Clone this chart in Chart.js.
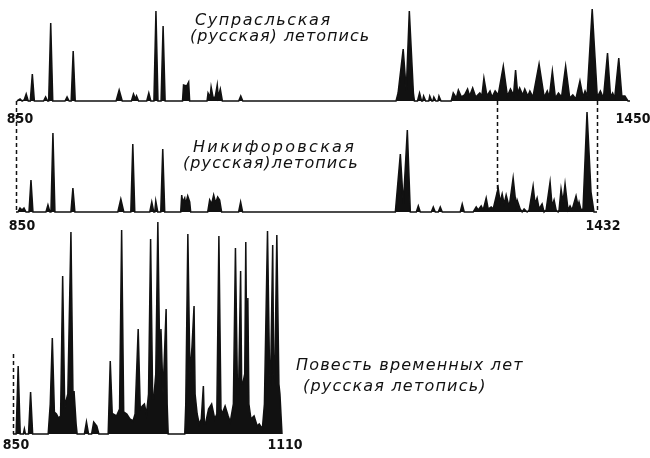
<!DOCTYPE html>
<html>
<head>
<meta charset="utf-8">
<script src="https://cdn.jsdelivr.net/npm/chart.js@4.4.0/dist/chart.umd.min.js"></script>
<style>
  body { margin: 0; background: #fff; }
  #wrap { position: relative; width: 650px; height: 458px; overflow: hidden; }
  #chart { position: absolute; left: 0; top: 0; }
  .title {
    position: absolute; white-space: nowrap; color: #111;
    font: italic 16px "DejaVu Sans", sans-serif; letter-spacing: 1.6px;
  }
</style>
</head>
<body>
<div id="wrap">
  <canvas id="chart" width="650" height="458"></canvas>
  <div class="title" style="left:195px; top:10px">Супрасльская</div>
  <div class="title" style="left:190px; top:26px; letter-spacing:1.0px">(русская) летопись</div>
  <div class="title" style="left:193px; top:137px; letter-spacing:2.3px">Никифоровская</div>
  <div class="title" style="left:183px; top:153px; letter-spacing:1.1px">(русская)летопись</div>
  <div class="title" style="left:296px; top:355px; letter-spacing:1.2px">Повесть временных лет</div>
  <div class="title" style="left:303px; top:376px; letter-spacing:1.2px">(русская летопись)</div>
</div>
<script>
// Supraslskaya chronicle (top panel)
const supYears = [
  850, 853, 855, 857, 859, 861, 863, 865, 867,
  876, 878, 880, 881, 883, 885, 897, 899, 901, 903, 905, 907,
  947, 950, 953, 962, 964, 966, 967, 969, 977, 979, 981,
  984, 986, 988, 991, 993, 995,
  1012, 1013, 1016, 1017, 1018, 1019,
  1036, 1037, 1039, 1040, 1042, 1044, 1046, 1047, 1049, 1051, 1067, 1069, 1071,
  1221, 1223, 1228, 1231, 1234, 1238, 1239, 1242, 1244, 1246, 1247, 1248, 1250,
  1253, 1254, 1256, 1257, 1258, 1260, 1262, 1263, 1265,
  1275, 1277, 1280, 1282, 1285, 1288, 1291, 1293, 1296, 1299,
  1303, 1305, 1307, 1310, 1313, 1315, 1318, 1321,
  1326, 1330, 1333, 1336, 1338, 1340, 1342, 1345, 1347, 1350,
  1352, 1355, 1361, 1366, 1369, 1371, 1374, 1377, 1380, 1383,
  1387, 1391, 1394, 1397, 1401, 1404, 1406, 1408,
  1413, 1418, 1421, 1424, 1428, 1431, 1433, 1435, 1439, 1442, 1445, 1448, 1450
];
const supValues = [
  0, 2, 0, 1, 7, 0, 0, 27, 0,
  0, 4, 0, 0, 78, 0, 0, 4, 0, 0, 50, 0,
  0, 11, 0, 0, 7, 2, 5, 0, 0, 8, 0,
  0, 90, 0, 0, 75, 0,
  0, 16, 15, 17, 19, 0,
  0, 8, 4, 14, 3, 4, 16, 4, 12, 0, 0, 5, 0,
  0, 8, 52, 10, 90, 8, 0, 0, 8, 0, 0, 5, 0,
  0, 5, 0, 0, 4, 0, 0, 5, 0,
  0, 8, 3, 11, 4, 6, 12, 5, 13, 4,
  8, 5, 23, 5, 10, 4, 10, 6,
  35, 5, 12, 6, 31, 8, 13, 6, 12, 5,
  10, 4, 37, 4, 10, 4, 30, 3, 8, 4,
  35, 3, 6, 2, 20, 4, 10, 5,
  92, 4, 10, 3, 48, 4, 8, 3, 43, 5, 5, 0, 0
];

// Nikiforovskaya chronicle (middle panel)
const nikYears = [
  850, 852, 854, 856, 858, 860, 863, 865, 867,
  880, 882, 884, 885, 887, 889, 905, 907, 909,
  952, 955, 958, 965, 967, 969, 984, 986, 988, 989, 990, 992, 995, 997, 999,
  1015, 1016, 1017, 1019, 1020, 1022, 1024, 1025,
  1042, 1044, 1046, 1048, 1050, 1052, 1054, 1056, 1073, 1075, 1077,
  1230, 1235, 1238, 1242, 1245, 1251, 1253, 1255,
  1266, 1268, 1270, 1273, 1275, 1277, 1295, 1297, 1299,
  1308, 1311, 1313, 1316, 1318, 1321, 1323, 1326, 1328,
  1333, 1335, 1337, 1339, 1341, 1344, 1348, 1351, 1352, 1355, 1357,
  1359, 1362, 1364, 1368, 1370, 1372, 1374, 1377, 1379,
  1381, 1385, 1387, 1389, 1391, 1393,
  1394, 1396, 1398, 1400, 1403, 1405, 1407,
  1411, 1413, 1414, 1416, 1418, 1422, 1426, 1429, 1432
];
const nikValues = [
  0, 0, 4, 2, 4, 0, 0, 32, 0,
  0, 7, 0, 0, 79, 0, 0, 24, 0,
  0, 13, 0, 0, 68, 0, 0, 10, 0, 0, 11, 0, 0, 63, 0,
  0, 17, 10, 14, 8, 16, 10, 0,
  0, 12, 8, 17, 9, 15, 12, 0, 0, 10, 0,
  0, 58, 8, 82, 0, 0, 6, 0,
  0, 5, 0, 0, 5, 0, 0, 8, 0,
  0, 5, 2, 6, 2, 14, 3, 5, 3,
  24, 10, 18, 8, 17, 5, 34, 6, 12, 3, 0,
  3, 0, 2, 26, 8, 14, 3, 8, 0,
  2, 30, 6, 12, 2, 0,
  2, 23, 10, 28, 2, 6, 2,
  16, 6, 10, 2, 3, 100, 20, 0, 0
];

// Povest vremennykh let (bottom panel)
const pvlYears = [
  850, 853, 855, 857, 860, 861, 862, 865, 867, 869,
  884, 886, 888, 890, 892, 894, 896, 898, 900, 901, 903, 906, 908, 909, 911, 912,
  919, 921, 923, 926, 928, 931, 933,
  942, 944, 946, 947, 950, 953, 955, 957, 960, 963,
  966, 968, 971, 973, 975, 977, 979, 981, 983, 985,
  986, 988, 990, 992, 993, 995, 998, 999, 1000,
  1016, 1017, 1019, 1021, 1023, 1025, 1026, 1028, 1030, 1032,
  1034, 1035, 1036, 1039, 1042, 1045, 1047, 1049, 1051, 1052,
  1055, 1058, 1060, 1063, 1065, 1067, 1068, 1070, 1071, 1072,
  1074, 1075, 1076, 1077, 1078, 1080, 1083, 1086, 1088, 1091,
  1093, 1096, 1098, 1099, 1101, 1102, 1103, 1105, 1107, 1108, 1110
];
const pvlValues = [
  0, 0, 68, 0, 0, 5, 0, 0, 42, 0,
  0, 30, 96, 22, 20, 16, 18, 158, 25, 32, 40, 202, 35, 43, 10, 0,
  0, 12, 0, 0, 12, 8, 0,
  0, 73, 18, 20, 18, 25, 204, 22, 20, 15,
  13, 20, 105, 25, 28, 30, 20, 40, 195, 35,
  35, 60, 212, 60, 105, 40, 125, 30, 0,
  0, 30, 200, 60, 87, 128, 40, 20, 10, 15,
  48, 10, 10, 25, 30, 15, 20, 198, 25, 20,
  28, 18, 12, 30, 186, 40, 40, 163, 50, 50,
  60, 192, 70, 136, 30, 15, 18, 8, 10, 5,
  30, 203, 60, 55, 189, 60, 55, 199, 50, 40, 0
];

// first and last year shown under each panel
const supTicks = [850, 1450];
const nikTicks = [850, 1432];
const pvlTicks = [850, 1110];

// dashed connectors: [x axis, year, from y axis, from value, to y axis, to value]
const guides = [
  ['x2', 850, 'y1', 0, 'y2', 0],
  ['x2', 1332, 'y1', 0, 'y2', 12],
  ['x2', 1432, 'y1', 0, 'y2', 0],
  ['x3', 850, 'y3', 80, 'y3', 0]
];

const W = 650, H = 458;
const ink = '#111';
const tickFont = { family: "'Liberation Sans Narrow', 'DejaVu Sans Condensed', 'Liberation Sans', sans-serif", size: 14, weight: 'bold' };

// each panel gets its own scales spread over the whole canvas
function xSpan(v0, px0, v1, px1) {
  const k = (v1 - v0) / (px1 - px0);
  return { min: v0 - px0 * k, max: v0 + (W - px0) * k };
}
function yBand(basePx) {
  return { min: basePx - H, max: basePx };
}

function points(years, values) {
  return years.map((y, i) => ({ x: y, y: values[i] }));
}

function series(years, values, xId, yId) {
  return {
    data: points(years, values),
    xAxisID: xId,
    yAxisID: yId,
    borderColor: ink,
    backgroundColor: ink,
    borderWidth: 1.5,
    fill: 'origin',
    tension: 0,
    pointRadius: 0
  };
}

function xAxis(span, yId, ticks, pad, shift) {
  return {
    type: 'linear',
    min: span.min,
    max: span.max,
    position: { [yId]: 0 },
    grid: { display: false, drawTicks: false },
    border: { display: false },
    afterBuildTicks: (scale) => { scale.ticks = ticks.map(v => ({ value: v })); },
    // labels may hang over the edge, don't let them shrink the plot
    afterFit: (scale) => { scale.paddingLeft = 0; scale.paddingRight = 0; },
    ticks: {
      color: ink, font: tickFont, padding: pad, labelOffset: shift,
      maxRotation: 0, autoSkip: false, callback: (v) => String(v)
    }
  };
}

const guidePlugin = {
  id: 'guides',
  afterDatasetsDraw(chart) {
    const ctx = chart.ctx;
    ctx.save();
    ctx.strokeStyle = ink;
    ctx.lineWidth = 1.5;
    ctx.setLineDash([4, 3]);
    guides.forEach(([xId, year, yA, vA, yB, vB]) => {
      const x = Math.round(chart.scales[xId].getPixelForValue(year)) + 0.5;
      ctx.beginPath();
      ctx.moveTo(x, chart.scales[yA].getPixelForValue(vA));
      ctx.lineTo(x, chart.scales[yB].getPixelForValue(vB));
      ctx.stroke();
    });
    ctx.restore();
  }
};

new Chart(document.getElementById('chart').getContext('2d'), {
  type: 'line',
  data: {
    datasets: [
      series(supYears, supValues, 'x1', 'y1'),
      series(nikYears, nikValues, 'x2', 'y2'),
      series(pvlYears, pvlValues, 'x3', 'y3')
    ]
  },
  options: {
    responsive: false,
    animation: false,
    layout: { padding: 0 },
    plugins: { legend: { display: false }, tooltip: { enabled: false } },
    scales: {
      x1: xAxis(xSpan(850, 17, 1450, 630), 'y1', supTicks, 10, 3),
      x2: xAxis(xSpan(850, 16, 1432, 597), 'y2', nikTicks, 6, 6),
      x3: xAxis(xSpan(850, 13, 1110, 282), 'y3', pvlTicks, 3, 3),
      y1: Object.assign({ type: 'linear', display: false }, yBand(101)),
      y2: Object.assign({ type: 'linear', display: false }, yBand(212)),
      y3: Object.assign({ type: 'linear', display: false }, yBand(434))
    }
  },
  plugins: [guidePlugin]
});
</script>
</body>
</html>
